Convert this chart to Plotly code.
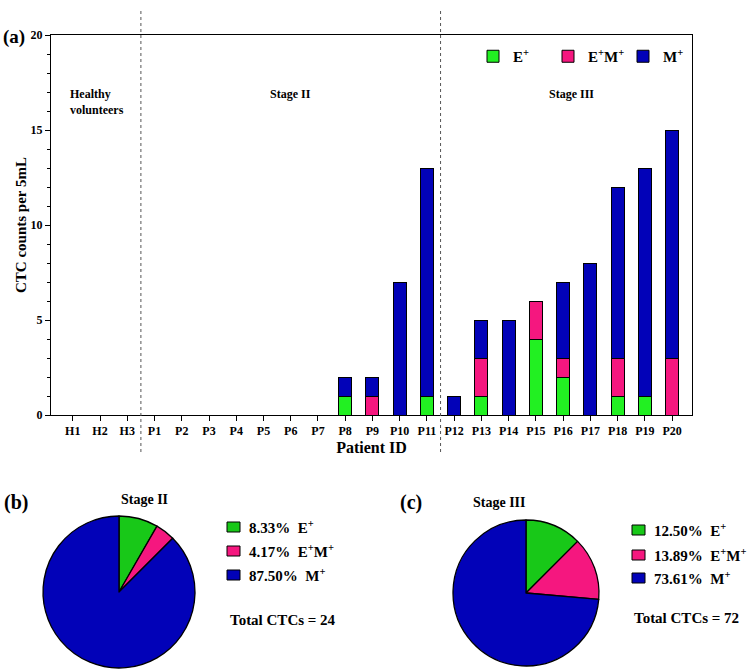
import plotly.graph_objects as go

W, H = 750, 672

# ---------------- data ----------------
patients = ["H1", "H2", "H3", "P1", "P2", "P3", "P4", "P5", "P6", "P7", "P8", "P9",
            "P10", "P11", "P12", "P13", "P14", "P15", "P16", "P17", "P18", "P19", "P20"]
e_pos = [0, 0, 0, 0, 0, 0, 0, 0, 0, 0, 1, 0, 0, 1, 0, 1, 0, 4, 2, 0, 1, 1, 0]
em_pos = [0, 0, 0, 0, 0, 0, 0, 0, 0, 0, 0, 1, 0, 0, 0, 2, 0, 2, 1, 0, 2, 0, 3]
m_pos = [0, 0, 0, 0, 0, 0, 0, 0, 0, 0, 1, 1, 7, 12, 1, 2, 5, 0, 4, 8, 9, 12, 12]
series_names = ["E<sup>+</sup>", "E<sup>+</sup>M<sup>+</sup>", "M<sup>+</sup>"]
colors = ["#22F022", "#F5177F", "#0202B8"]
pie_colors = ["#18C818", "#F5177F", "#0202B8"]
stage2_idx = list(range(3, 14))   # P1..P11
stage3_idx = list(range(14, 23))  # P12..P20
group_labels = ["Healthy<br>volunteers", "Stage II", "Stage III"]

FONT = "Liberation Serif"


def px(x):
    return x / W


def py(y):
    return 1 - y / H


fig = go.Figure()
for name, vals, col in zip(series_names, [e_pos, em_pos, m_pos], colors):
    fig.add_trace(go.Bar(x=patients, y=vals, name=name, width=0.48,
                         marker=dict(color=col, line=dict(color="black", width=1)),
                         xaxis="x", yaxis="y"))

# pie data
def stage_sums(idx):
    return [sum(s[i] for i in idx) for s in (e_pos, em_pos, m_pos)]

s2 = stage_sums(stage2_idx)
s3 = stage_sums(stage3_idx)

pies = [
    dict(vals=s2, dom_x=(43, 195), dom_y=(516, 668), title="Stage II", tx=119, ty=499,
         tag="(b)", tagx=2, tagy=502, legx=227, legy=[527, 551, 575], totx=228, toty=620),
    dict(vals=s3, dom_x=(453, 599), dom_y=(520, 666), title="Stage III", tx=528, ty=502,
         tag="(c)", tagx=398, tagy=502, legx=632, legy=[530, 555, 578], totx=632, toty=618),
]

annotations = []
shapes = []
for p in pies:
    fig.add_trace(go.Pie(values=p["vals"], labels=series_names, sort=False,
                         direction="clockwise", rotation=0, textinfo="none",
                         marker=dict(colors=pie_colors, line=dict(color="black", width=1.3)),
                         domain=dict(x=[px(p["dom_x"][0]), px(p["dom_x"][1])],
                                     y=[py(p["dom_y"][1]), py(p["dom_y"][0])]),
                         showlegend=False, hoverinfo="label+percent"))
    total = sum(p["vals"])
    annotations.append(dict(x=px(p["tx"]), y=py(p["ty"]), xref="paper", yref="paper",
                            text="<b>%s</b>" % p["title"], showarrow=False,
                            yanchor="middle",
                            font=dict(family=FONT, size=14, color="black")))
    annotations.append(dict(x=px(p["tagx"]), y=py(p["tagy"]), xref="paper", yref="paper",
                            text="<b>%s</b>" % p["tag"], showarrow=False, xanchor="left",
                            yanchor="middle",
                            font=dict(family=FONT, size=20, color="black")))
    for v, nm, col, ly in zip(p["vals"], series_names, pie_colors, p["legy"]):
        shapes.append(dict(type="rect", xref="paper", yref="paper",
                           x0=px(p["legx"]), x1=px(p["legx"] + 13),
                           y0=py(ly + 5), y1=py(ly - 5),
                           fillcolor=col, line=dict(color="black", width=1)))
        annotations.append(dict(x=px(p["legx"] + 20), y=py(ly), xref="paper", yref="paper",
                                text="<b>%.2f%%  %s</b>" % (100 * v / total, nm),
                                showarrow=False, xanchor="left", yanchor="middle",
                                font=dict(family=FONT, size=15, color="black")))
    annotations.append(dict(x=px(p["totx"]), y=py(p["toty"]), xref="paper", yref="paper",
                            text="<b>Total CTCs = %d</b>" % total, showarrow=False,
                            xanchor="left", yanchor="middle",
                            font=dict(family=FONT, size=15, color="black")))

# bar group labels (top of text block at ~85 px)
for lab, xpos in zip(group_labels, [0.9, 8.0, 18.3]):
    annotations.append(dict(x=xpos, y=py(85), xref="x", yref="paper", text="<b>%s</b>" % lab,
                            showarrow=False, yanchor="top",
                            align="left" if "Healthy" in lab else "center",
                            font=dict(family=FONT, size=12, color="black")))
annotations.append(dict(x=px(1), y=py(37), xref="paper", yref="paper", text="<b>(a)</b>",
                        showarrow=False, xanchor="left", yanchor="middle",
                        font=dict(family=FONT, size=19, color="black")))

# dotted separators
for xs in [2.5, 13.5]:
    shapes.append(dict(type="line", xref="x", yref="paper", x0=xs, x1=xs,
                       y0=py(452), y1=py(8), line=dict(color="#555555", width=1, dash="dot")))

fig.update_layout(
    width=W, height=H, margin=dict(l=0, r=0, t=0, b=0, autoexpand=False),
    paper_bgcolor="white", plot_bgcolor="white",
    barmode="stack", bargap=0.5,
    font=dict(family=FONT, color="black"),
    xaxis=dict(domain=[px(51), px(692)], anchor="y", range=[-0.8, 22.73],
               showline=True, linecolor="black", linewidth=1, mirror=True,
               ticks="outside", ticklen=5, tickcolor="black", automargin=False,
               tickfont=dict(family=FONT, size=12, color="black", weight="bold"),
               title=dict(text="<b>Patient ID</b>", font=dict(family=FONT, size=16), standoff=4),
               showgrid=False, zeroline=False, fixedrange=True),
    yaxis=dict(domain=[py(415), py(35)], anchor="x", range=[0, 20],
               tickvals=[0, 5, 10, 15, 20], automargin=False,
               showline=True, linecolor="black", linewidth=1, mirror=True,
               ticks="outside", ticklen=5, tickcolor="black",
               minor=dict(dtick=1, ticks="outside", ticklen=3, tickcolor="black"),
               tickfont=dict(family=FONT, size=12, color="black", weight="bold"),
               title=dict(text="<b>CTC counts per 5mL</b>", font=dict(family=FONT, size=15), standoff=0),
               showgrid=False, zeroline=False),
    legend=dict(orientation="h", x=px(473), y=py(40), xanchor="left", yanchor="top",
                font=dict(family=FONT, size=15, color="black", weight="bold"),
                bgcolor="rgba(0,0,0,0)", entrywidth=30, traceorder="normal"),
    annotations=annotations, shapes=shapes,
)

fig.write_html("out.html", config={"displayModeBar": False},
               post_script="document.body.style.margin='0px';document.body.style.overflow='hidden';")
